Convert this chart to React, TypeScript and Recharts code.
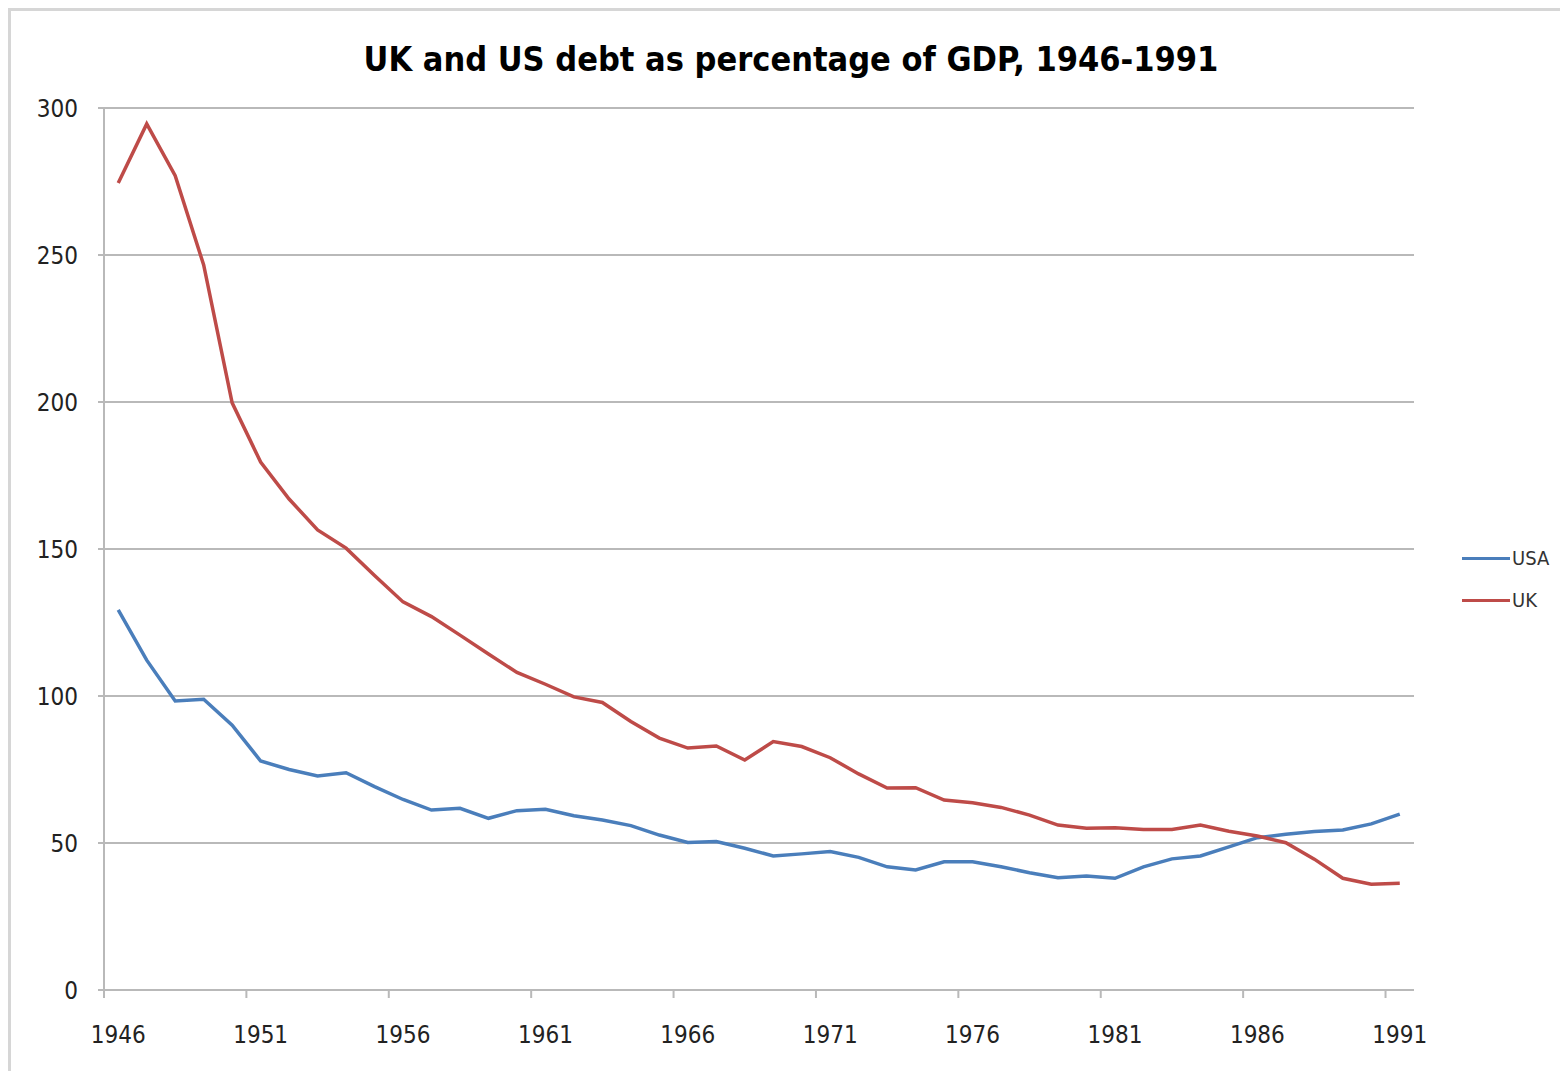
import React from "react";
import {
  LineChart,
  Line,
  XAxis,
  YAxis,
  CartesianGrid,
  Legend,
} from "recharts";

const years = [
  "1946", "1947", "1948", "1949", "1950", "1951", "1952", "1953", "1954", "1955",
  "1956", "1957", "1958", "1959", "1960", "1961", "1962", "1963", "1964", "1965",
  "1966", "1967", "1968", "1969", "1970", "1971", "1972", "1973", "1974", "1975",
  "1976", "1977", "1978", "1979", "1980", "1981", "1982", "1983", "1984", "1985",
  "1986", "1987", "1988", "1989", "1990", "1991",
];

const usa = [
  129.3, 112.2, 98.3, 98.9, 90.1, 77.9, 75.0, 72.8, 73.9, 69.2,
  64.8, 61.2, 61.8, 58.4, 61.0, 61.5, 59.3, 57.8, 55.9, 52.7,
  50.2, 50.5, 48.2, 45.6, 46.3, 47.1, 45.1, 41.9, 40.8, 43.6,
  43.6, 41.9, 39.9, 38.2, 38.8, 38.0, 41.9, 44.6, 45.6, 48.7,
  51.8, 53.0, 53.9, 54.4, 56.5, 59.8,
];

const uk = [
  274.5, 294.6, 277.0, 246.6, 199.7, 179.6, 167.0, 156.5, 150.3, 141.0,
  132.0, 127.0, 120.7, 114.3, 108.0, 104.0, 99.7, 97.8, 91.3, 85.7,
  82.3, 83.0, 78.2, 84.5, 82.8, 79.0, 73.5, 68.7, 68.8, 64.6,
  63.7, 62.1, 59.5, 56.1, 55.0, 55.2, 54.6, 54.6, 56.1, 54.0,
  52.4, 50.1, 44.5, 38.0, 36.0, 36.3,
];

const seriesOrder = ["USA", "UK"];
const yTicks = [0, 50, 100, 150, 200, 250, 300];

const data = years.map((year, i) => ({ year, USA: usa[i], UK: uk[i] }));

const BLUE = "#4a7ebb";
const RED = "#be4b48";
const GRID = "#b9b9b9";
const FONT = "'Liberation Sans Narrow', 'DejaVu Sans Condensed', sans-serif";

const CHART_W = 1560;
const CHART_H = 1063;
const MARGIN = { top: 100, right: 154, bottom: 21, left: 0 };
const PLOT_W = CHART_W - MARGIN.right - 96;
const HALF_BAND = PLOT_W / years.length / 2;

function YearTick(props: any) {
  const { x, y, payload } = props;
  const axisY = y - 8;
  return (
    <g>
      <line
        x1={x - HALF_BAND}
        x2={x - HALF_BAND}
        y1={axisY}
        y2={axisY + 8}
        stroke={GRID}
        strokeWidth={2}
      />
      <text
        x={x}
        y={axisY + 53}
        textAnchor="middle"
        fill="#222"
        fontSize={24}
        fontFamily={FONT}
      >
        {payload.value}
      </text>
    </g>
  );
}

function SideLegend({ payload }: { payload?: Array<{ value?: string; color?: string }> }) {
  const items = [...(payload || [])].sort(
    (a, b) => seriesOrder.indexOf(a.value || "") - seriesOrder.indexOf(b.value || "")
  );
  return (
    <div style={{ fontFamily: FONT }}>
      {items.map((entry, index) => (
        <div
          key={index}
          style={{ display: "flex", alignItems: "center", height: 42 }}
        >
          <div style={{ width: 48, height: 3, background: entry?.color }} />
          <span style={{ fontSize: 20, color: "#333", marginLeft: 2 }}>
            {entry?.value}
          </span>
        </div>
      ))}
    </div>
  );
}

export default function App() {
  return (
    <div
      style={{
        position: "relative",
        width: CHART_W,
        height: CHART_H,
        borderTop: "3px solid #d6d6d6",
        borderLeft: "3px solid #d6d6d6",
        boxSizing: "border-box",
        background: "#fff",
      }}
    >
      <div
        style={{
          position: "absolute",
          top: 28,
          left: 0,
          width: 1560,
          textAlign: "center",
          fontFamily: FONT,
          fontWeight: "bold",
          fontSize: 34,
          color: "#000",
        }}
      >
        UK and US debt as percentage of GDP, 1946-1991
      </div>
      <div style={{ position: "absolute", left: -3, top: -3 }}>
        <LineChart width={CHART_W} height={CHART_H} data={data} margin={MARGIN}>
          <CartesianGrid vertical={false} stroke={GRID} strokeWidth={2} />
          <XAxis
            dataKey="year"
            scale="band"
            interval={4}
            axisLine={{ stroke: GRID, strokeWidth: 2 }}
            tickLine={false}
            tickSize={8}
            tickMargin={0}
            height={60}
            tick={<YearTick />}
          />
          <YAxis
            domain={[0, 300]}
            ticks={yTicks}
            width={96}
            axisLine={{ stroke: GRID, strokeWidth: 2 }}
            tickLine={{ stroke: GRID, strokeWidth: 2 }}
            tickSize={6}
            tickMargin={20}
            tick={{ fill: "#222", fontSize: 24, fontFamily: FONT }}
          />
          <Line
            dataKey="USA"
            stroke={BLUE}
            strokeWidth={3.5}
            dot={false}
            isAnimationActive={false}
          />
          <Line
            dataKey="UK"
            stroke={RED}
            strokeWidth={3.5}
            dot={false}
            isAnimationActive={false}
          />
          <Legend
            layout="vertical"
            align="center"
            verticalAlign="middle"
            wrapperStyle={{ left: 1454, top: 529, width: 100 }}
            content={<SideLegend />}
          />
        </LineChart>
      </div>
    </div>
  );
}
